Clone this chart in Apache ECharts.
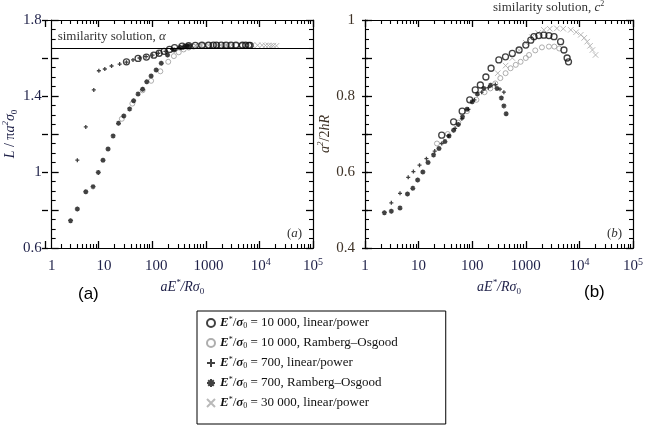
<!DOCTYPE html>
<html>
<head>
<meta charset="utf-8">
<script src="https://cdn.jsdelivr.net/npm/echarts@6/dist/echarts.min.js"></script>
<style>
html, body { margin: 0; background: #fff; }
#main { width: 646px; height: 428px; }
</style>
</head>
<body>
<div id="main"></div>
<script>
// E*/s0 = 10 000, linear/power (black open circles)
var xC = [27, 45, 65, 90, 114, 142, 180, 225, 314, 418, 560, 750, 1000, 1240, 1420, 1750, 2170, 2700, 3360, 4460, 5150, 5900, 6260]
var aC = [1.58, 1.598, 1.605, 1.615, 1.625, 1.635, 1.645, 1.655, 1.662, 1.665, 1.666, 1.667, 1.668, 1.668, 1.668, 1.668, 1.668, 1.668, 1.668, 1.667, 1.667, 1.666, 1.666]
var bC = [0.697, 0.732, 0.76, 0.79, 0.816, 0.829, 0.85, 0.873, 0.895, 0.903, 0.912, 0.921, 0.934, 0.947, 0.956, 0.959, 0.96, 0.959, 0.956, 0.943, 0.921, 0.9, 0.89]

// 10 000, Ramberg-Osgood (grey small circles)
var xG = [22, 35, 55, 80, 120, 170, 218, 270, 335, 420, 520, 650, 800, 1000, 1150, 1500, 2000, 2700, 3400, 4200]
var aG = [1.28, 1.36, 1.43, 1.48, 1.53, 1.58, 1.61, 1.63, 1.645, 1.655, 1.66, 1.664, 1.666, 1.667, 1.668, 1.668, 1.668, 1.667, 1.667, 1.666]
var bG = [0.675, 0.7, 0.73, 0.76, 0.79, 0.81, 0.82, 0.833, 0.847, 0.86, 0.873, 0.882, 0.89, 0.9, 0.908, 0.92, 0.928, 0.93, 0.93, 0.925]

// 700, linear/power (+)
var xP = [3.1, 4.5, 6.4, 8.0, 10.4, 14, 20, 27, 36, 48, 64, 85, 110, 150, 200, 270, 330, 390]
var aP = [1.062, 1.237, 1.432, 1.533, 1.542, 1.558, 1.568, 1.578, 1.59, 1.6, 1.607, 1.615, 1.625, 1.635, 1.645, 1.655, 1.66, 1.665]
var bP = [0.519, 0.544, 0.586, 0.601, 0.618, 0.635, 0.655, 0.675, 0.695, 0.715, 0.74, 0.765, 0.79, 0.81, 0.822, 0.83, 0.818, 0.81]

// 700, Ramberg-Osgood (*)
var xR = [2.3, 3.1, 4.5, 6.2, 7.8, 9.6, 12, 15, 19, 24, 31, 37, 45, 55, 66, 80, 100, 125, 165, 220, 290, 350, 390, 430]
var aR = [0.744, 0.805, 0.896, 0.923, 0.998, 1.062, 1.121, 1.19, 1.256, 1.295, 1.332, 1.375, 1.41, 1.435, 1.475, 1.505, 1.537, 1.572, 1.616, 1.642, 1.655, 1.66, 1.665, 1.665]
var bR = [0.493, 0.497, 0.505, 0.542, 0.557, 0.579, 0.6, 0.625, 0.645, 0.662, 0.68, 0.695, 0.71, 0.725, 0.745, 0.765, 0.785, 0.805, 0.82, 0.828, 0.82, 0.795, 0.774, 0.753]

// 30 000, linear/power (x)
var xX = [300, 420, 560, 750, 1000, 1300, 1700, 2170, 2800, 3800, 5000, 6900, 8700, 10600, 12300, 14000, 15800, 17500, 20000]
var aX = [1.66, 1.663, 1.665, 1.666, 1.667, 1.668, 1.668, 1.668, 1.668, 1.668, 1.668, 1.668, 1.667, 1.667, 1.666, 1.666, 1.665, 1.665, 1.664]
var bX = [0.86, 0.88, 0.9, 0.92, 0.94, 0.955, 0.966, 0.974, 0.977, 0.978, 0.977, 0.974, 0.968, 0.961, 0.953, 0.943, 0.932, 0.921, 0.908]

var alpha = 1.65
var names = ['10 000, linear/power', '10 000, Ramberg\u2013Osgood', '700, linear/power', '700, Ramberg\u2013Osgood', '30 000, linear/power']

// minor log ticks 2..9 per decade, as decades (log10) for a 0..5 value axis
var minorVals = []
for (var d = 0; d < 5; d++) {
  for (var k = 2; k <= 9; k++) minorVals.push(d + Math.log10(k))
}

var serif = 'Liberation Serif'
var ink = '#1e2048'
var tickLine = { color: '#000', width: 1.3 }
var frameLine = { color: '#000', width: 1.2 }

var chartDom = document.getElementById('main')
var myChart = echarts.init(chartDom)

function pairs(xs, ys) {
  return xs.map(function (x, i) { return [x, ys[i]] })
}

var richTxt = {
  n: { fontFamily: serif, fontSize: 14, color: ink, lineHeight: 18 },
  i: { fontFamily: serif, fontSize: 14, fontStyle: 'italic', color: ink, lineHeight: 18 },
  sup: { fontFamily: serif, fontSize: 9, fontStyle: 'italic', color: ink, lineHeight: 10, verticalAlign: 'top' },
  sub: { fontFamily: serif, fontSize: 9, color: ink, lineHeight: 10, verticalAlign: 'bottom' }
}

// every panel is drawn on 5 stacked grids, each with one x and one y axis
// (ECharts 6 drops ticks when a grid holds several axes of one dimension)
var gridBoxes = [
  { left: 45, top: 20, width: 268, height: 228 },
  { left: 365, top: 20, width: 268, height: 228 }
]
var grids = [], xAxes = [], yAxes = [], helpers = []

function decadeAxis(g, pos, ticks) {
  return {
    type: 'value', min: 0, max: 5, interval: 1, gridIndex: g, position: pos,
    splitLine: { show: false },
    axisLine: { show: true, onZero: false, lineStyle: frameLine },
    axisTick: ticks,
    axisLabel: { show: false }
  }
}

function addPanel(p, min, max, step, yName, yGap, col) {
  var g0 = p * 5
  for (var k = 0; k < 5; k++) grids.push(Object.assign({ show: false }, gridBoxes[p]))

  var yRich = {}
  Object.keys(richTxt).forEach(function (key) { yRich[key] = Object.assign({}, richTxt[key], { color: col }) })

  var yBase = {
    type: 'value', min: min, max: max, interval: step,
    splitLine: { show: false },
    axisLine: { show: true, onZero: false, lineStyle: frameLine },
    axisTick: { show: true, inside: true, length: 7, lineStyle: tickLine },
    minorTick: { show: true, splitNumber: 4, length: 4, lineStyle: { color: '#000', width: 1.1 } },
    axisLabel: { show: false }
  }
  var yStub = {
    type: 'value', min: min, max: max, interval: step,
    splitLine: { show: false },
    axisLine: { show: false },
    axisTick: { show: true, inside: false, length: 3, lineStyle: tickLine },
    axisLabel: { show: false }
  }

  // grid 0: data, log x with labels, left y with labels
  xAxes.push({
    type: 'log', logBase: 10, min: 1, max: 100000, gridIndex: g0, position: 'bottom',
    splitLine: { show: false },
    axisLine: { show: true, onZero: false, lineStyle: frameLine },
    axisTick: { show: false },
    axisLabel: {
      margin: 9,
      formatter: function (v) {
        if (v >= 10000) return '{b|10}{s|' + Math.round(Math.log10(v)) + '}'
        return '{b|' + Math.round(v) + '}'
      },
      rich: {
        b: { fontFamily: serif, fontSize: 15, color: ink, lineHeight: 18 },
        s: { fontFamily: serif, fontSize: 10, color: ink, lineHeight: 10, verticalAlign: 'top' }
      }
    },
    name: '{i|aE}{sup|*}{i|/R\u03c3}{sub|0}',
    nameLocation: 'middle',
    nameGap: 26,
    nameTextStyle: { rich: richTxt }
  })
  yAxes.push(Object.assign({}, yBase, {
    gridIndex: g0, position: 'left',
    axisLabel: {
      margin: 10, fontFamily: serif, fontSize: 15, color: col,
      // label every second tick
      formatter: function (v) {
        var n = Math.round((v - min) / step)
        return n % 2 === 0 ? String(Math.round(v * 10) / 10) : ''
      }
    },
    name: yName, nameLocation: 'middle', nameGap: yGap, nameRotate: 90,
    nameTextStyle: { rich: yRich }
  }))

  // grid 1: bottom decade ticks, right frame
  xAxes.push(decadeAxis(g0 + 1, 'bottom', { show: true, inside: true, length: 7, lineStyle: tickLine }))
  yAxes.push(Object.assign({}, yBase, { gridIndex: g0 + 1, position: 'right' }))

  // grid 2: top decade ticks, left outward stubs
  xAxes.push(decadeAxis(g0 + 2, 'top', { show: true, inside: true, length: 7, lineStyle: tickLine }))
  yAxes.push(Object.assign({}, yStub, { gridIndex: g0 + 2, position: 'left' }))

  // grid 3: bottom minor log ticks, right outward stubs
  xAxes.push(decadeAxis(g0 + 3, 'bottom', { show: true, inside: true, length: 4, customValues: minorVals, lineStyle: { color: '#000', width: 1.1 } }))
  yAxes.push(Object.assign({}, yStub, { gridIndex: g0 + 3, position: 'right' }))

  // grid 4: top minor log ticks
  xAxes.push(decadeAxis(g0 + 4, 'top', { show: true, inside: true, length: 4, customValues: minorVals, lineStyle: { color: '#000', width: 1.1 } }))
  yAxes.push({ type: 'value', min: min, max: max, gridIndex: g0 + 4, show: false })

  for (var h = 1; h < 5; h++) {
    helpers.push({ type: 'scatter', xAxisIndex: g0 + h, yAxisIndex: g0 + h, data: [], silent: true })
  }
}

addPanel(0, 0.6, 1.8, 0.2, '{i|L}{n| / \u03c0}{i|a}{sup|2}{i|\u03c3}{sub|0}', 29, ink)
addPanel(1, 0.4, 1, 0.1, '{i|a}{sup|2}{n|/2}{i|hR}', 22, '#3e3226')

var symC = { symbol: 'circle', symbolSize: 6, itemStyle: { color: 'rgba(255,255,255,0)', borderColor: '#111', borderWidth: 1.3 } }
var symG = { symbol: 'circle', symbolSize: 5, itemStyle: { color: 'rgba(255,255,255,0)', borderColor: '#9a9a9a', borderWidth: 1 } }
var symP = { symbol: 'path://M0 5H10M5 0V10', symbolSize: 4, itemStyle: { color: 'rgba(0,0,0,0)', borderColor: '#111', borderWidth: 1.3 } }
var symR = { symbol: 'path://M0 5H10M5 0V10M1.5 1.5L8.5 8.5M8.5 1.5L1.5 8.5', symbolSize: 5, itemStyle: { color: 'rgba(0,0,0,0)', borderColor: '#111', borderWidth: 1.4 } }
var symX = { symbol: 'path://M0 0L10 10M10 0L0 10', symbolSize: 5.5, itemStyle: { color: 'rgba(0,0,0,0)', borderColor: '#a8a8a8', borderWidth: 1 } }

var sets = [
  [names[4], xX, aX, bX, symX],
  [names[1], xG, aG, bG, symG],
  [names[3], xR, aR, bR, symR],
  [names[2], xP, aP, bP, symP],
  [names[0], xC, aC, bC, symC]
]

var series = []
sets.forEach(function (s) {
  series.push(Object.assign({ type: 'scatter', name: s[0], xAxisIndex: 0, yAxisIndex: 0, data: pairs(s[1], s[2]) }, s[4]))
  series.push(Object.assign({ type: 'scatter', name: s[0], xAxisIndex: 5, yAxisIndex: 5, data: pairs(s[1], s[3]) }, s[4]))
})

// similarity solution line in panel (a)
series.push({
  type: 'scatter', xAxisIndex: 0, yAxisIndex: 0, data: [],
  markLine: {
    silent: true, symbol: 'none', animation: false,
    lineStyle: { color: '#000', width: 1, type: 'solid' },
    label: {
      show: true, position: 'insideStartTop', distance: [6, 5],
      formatter: '{n|similarity solution, }{i|\u03b1}',
      rich: {
        n: { fontFamily: serif, fontSize: 13, fontWeight: 'normal', color: '#333' },
        i: { fontFamily: serif, fontSize: 13, fontWeight: 'normal', fontStyle: 'italic', color: '#333' }
      }
    },
    data: [{ yAxis: alpha }]
  }
})

series = series.concat(helpers)

var legendRich = {
  n: { fontFamily: serif, fontSize: 13, color: '#111', lineHeight: 14 },
  i: { fontFamily: serif, fontSize: 13, fontStyle: 'italic', fontWeight: 'bold', color: '#111', lineHeight: 14 },
  sup: { fontFamily: serif, fontSize: 8, color: '#111', lineHeight: 8, verticalAlign: 'top' },
  sub: { fontFamily: serif, fontSize: 8, color: '#111', lineHeight: 8, verticalAlign: 'bottom' }
}

var smallRich = {
  n: { fontFamily: serif, fontSize: 13, fontWeight: 'normal', color: '#333', lineHeight: 16 },
  i: { fontFamily: serif, fontSize: 13, fontWeight: 'normal', fontStyle: 'italic', color: '#333', lineHeight: 16 },
  s: { fontFamily: serif, fontSize: 8, fontWeight: 'normal', color: '#333', lineHeight: 8, verticalAlign: 'top' }
}

var option = {
  animation: false,
  backgroundColor: '#fff',
  grid: grids,
  xAxis: xAxes,
  yAxis: yAxes,
  title: [
    { text: '{n|similarity solution, }{i|c}{s|2}', left: 493, top: 0, padding: 0, textStyle: { fontWeight: 'normal', rich: smallRich } },
    { text: '{n|(}{i|a}{n|)}', left: 287, top: 226, padding: 0, textStyle: { fontWeight: 'normal', rich: smallRich } },
    { text: '{n|(}{i|b}{n|)}', left: 607, top: 226, padding: 0, textStyle: { fontWeight: 'normal', rich: smallRich } },
    { text: '(a)', left: 78, top: 286, padding: 0, textStyle: { fontFamily: 'Liberation Sans', fontSize: 17, fontWeight: 'normal', color: '#000' } },
    { text: '(b)', left: 584, top: 284, padding: 0, textStyle: { fontFamily: 'Liberation Sans', fontSize: 17, fontWeight: 'normal', color: '#000' } }
  ],
  legend: {
    data: names,
    orient: 'vertical',
    left: 197, top: 311,
    padding: [5, 48, 14, 9],
    itemGap: 6, itemWidth: 8, itemHeight: 8,
    borderColor: '#000', borderWidth: 1, borderRadius: 0,
    selectedMode: false,
    formatter: function (name) {
      var p = name.split(', ')
      return '{i|E}{sup|*}{n|/}{i|\u03c3}{sub|0}{n| = ' + p[0] + ', ' + p[1] + '}'
    },
    textStyle: { rich: legendRich }
  },
  series: series
}

option && myChart.setOption(option)
</script>
</body>
</html>
